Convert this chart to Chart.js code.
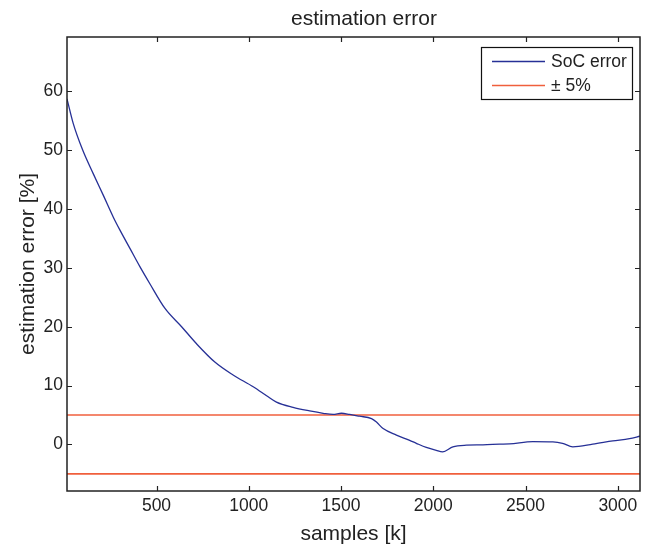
<!DOCTYPE html>
<html>
<head>
<meta charset="utf-8">
<script src="https://cdn.jsdelivr.net/npm/chart.js@4.4.0/dist/chart.umd.min.js"></script>
<style>
html,body{margin:0;padding:0;background:#fff;}
#wrap{width:654px;height:549px;position:relative;}
</style>
</head>
<body>
<div id="wrap"><canvas id="c" width="654" height="549"></canvas></div>
<script>
// ---- data ----
const samplesX = [15, 49, 100, 157, 212, 266, 302, 356, 410, 464, 546, 636, 717, 816, 915, 1024, 1105, 1150, 1240, 1330, 1403, 1457, 1502, 1547, 1600, 1665, 1692, 1728, 1800, 1872, 1908, 1962, 2016, 2050, 2106, 2179, 2269, 2359, 2413, 2540, 2648, 2700, 2756, 2864, 2973, 3063, 3120];
const socError = [58.7, 54.5, 50.0, 46.0, 42.3, 38.6, 36.4, 33.3, 30.2, 27.3, 23.1, 20.0, 17.1, 14.0, 11.8, 9.8, 8.1, 7.2, 6.3, 5.7, 5.3, 5.1, 5.3, 5.1, 4.8, 4.4, 3.8, 2.7, 1.6, 0.7, 0.2, -0.5, -1.0, -1.25, -0.4, -0.12, -0.06, 0.05, 0.1, 0.5, 0.45, 0.2, -0.4, 0.05, 0.6, 1.0, 1.4];
const boundX = [15, 3120];
const upperBound = [5, 5];
const lowerBound = [-5, -5];
const xTicks = [500, 1000, 1500, 2000, 2500, 3000];
const yTicks = [0, 10, 20, 30, 40, 50, 60];
const xRange = [15, 3120];
const yRange = [-7.9, 69.2];
const seriesLabels = ['SoC error', '\u00B1 5%'];
const titleText = 'estimation error';
const xTitle = 'samples [k]';
const yTitle = 'estimation error [%]';

const BLUE = 'rgb(38,48,150)';
const RED = 'rgb(240,95,60)';
const FONT = '"Liberation Sans", Arial, Helvetica, sans-serif';

const pts = (xs, ys) => xs.map((x, i) => ({x: x, y: ys[i]}));

const framePlugin = {
  id: 'frame',
  afterDraw(chart) {
    const ctx = chart.ctx, a = chart.chartArea;
    const xs = chart.scales.x, ys = chart.scales.y;
    ctx.save();
    ctx.strokeStyle = '#222';
    ctx.lineWidth = 1.5;
    ctx.strokeRect(a.left, a.top, a.right - a.left, a.bottom - a.top);
    ctx.lineWidth = 1.2;
    const L = 5;
    ctx.beginPath();
    xTicks.forEach(v => {
      const px = Math.round(xs.getPixelForValue(v)) + 0.5;
      ctx.moveTo(px, a.bottom); ctx.lineTo(px, a.bottom - L);
      ctx.moveTo(px, a.top); ctx.lineTo(px, a.top + L);
    });
    yTicks.forEach(v => {
      const py = Math.round(ys.getPixelForValue(v)) + 0.5;
      ctx.moveTo(a.left, py); ctx.lineTo(a.left + L, py);
      ctx.moveTo(a.right, py); ctx.lineTo(a.right - L, py);
    });
    ctx.stroke();
    // title
    ctx.fillStyle = '#222';
    ctx.font = '21px ' + FONT;
    ctx.textAlign = 'center';
    ctx.textBaseline = 'middle';
    ctx.fillText(titleText, 364, 19);
    // legend
    const bx = 481, by = 47, bw = 151, bh = 52;
    ctx.fillStyle = '#fff';
    ctx.fillRect(bx, by, bw, bh);
    ctx.strokeStyle = '#111';
    ctx.lineWidth = 1.2;
    ctx.strokeRect(bx + 0.5, by + 0.5, bw, bh);
    const rows = [{c: BLUE, y: 61, t: seriesLabels[0], w: 1.3}, {c: RED, y: 85, t: seriesLabels[1], w: 1.5}];
    ctx.font = '17.5px ' + FONT;
    ctx.textAlign = 'left';
    rows.forEach(r => {
      ctx.strokeStyle = r.c; ctx.lineWidth = r.w;
      ctx.beginPath(); ctx.moveTo(492, r.y + 0.5); ctx.lineTo(545, r.y + 0.5); ctx.stroke();
      ctx.fillStyle = '#222';
      ctx.fillText(r.t, 551, r.y + 1);
    });
    ctx.restore();
  }
};

new Chart(document.getElementById('c'), {
  type: 'scatter',
  data: {
    datasets: [
      {label: seriesLabels[0], data: pts(samplesX, socError), showLine: true, borderColor: BLUE, borderWidth: 1.3, pointRadius: 0, cubicInterpolationMode: 'monotone', order: 1},
      {label: seriesLabels[1], data: pts(boundX, upperBound), showLine: true, borderColor: RED, borderWidth: 1.6, pointRadius: 0, order: 2},
      {label: seriesLabels[1], data: pts(boundX, lowerBound), showLine: true, borderColor: RED, borderWidth: 1.6, pointRadius: 0, order: 2}
    ]
  },
  options: {
    responsive: false,
    animation: false,
    devicePixelRatio: 1,
    layout: {padding: {top: 37, right: 14, left: 0, bottom: 0}},
    plugins: {legend: {display: false}, title: {display: false}, tooltip: {enabled: false}},
    scales: {
      x: {
        type: 'linear', min: xRange[0], max: xRange[1],
        grid: {display: false, drawTicks: false}, border: {display: false},
        afterBuildTicks: s => { s.ticks = xTicks.map(v => ({value: v})); },
        afterFit: s => { s.height = 58; },
        ticks: {color: '#222', font: {family: FONT, size: 17.5}, padding: 5, maxRotation: 0, callback: v => String(v)},
        title: {display: true, text: xTitle, color: '#222', font: {family: FONT, size: 21}, padding: {top: 0, bottom: 2}}
      },
      y: {
        type: 'linear', min: yRange[0], max: yRange[1],
        grid: {display: false, drawTicks: false}, border: {display: false},
        afterBuildTicks: s => { s.ticks = yTicks.map(v => ({value: v})); },
        afterFit: s => { s.width = 67; },
        ticks: {color: '#222', font: {family: FONT, size: 17.5}, padding: 4, callback: v => String(v)},
        title: {display: true, text: yTitle, color: '#222', font: {family: FONT, size: 21}, padding: {top: 16, bottom: 0}}
      }
    }
  },
  plugins: [framePlugin]
});
</script>
</body>
</html>
